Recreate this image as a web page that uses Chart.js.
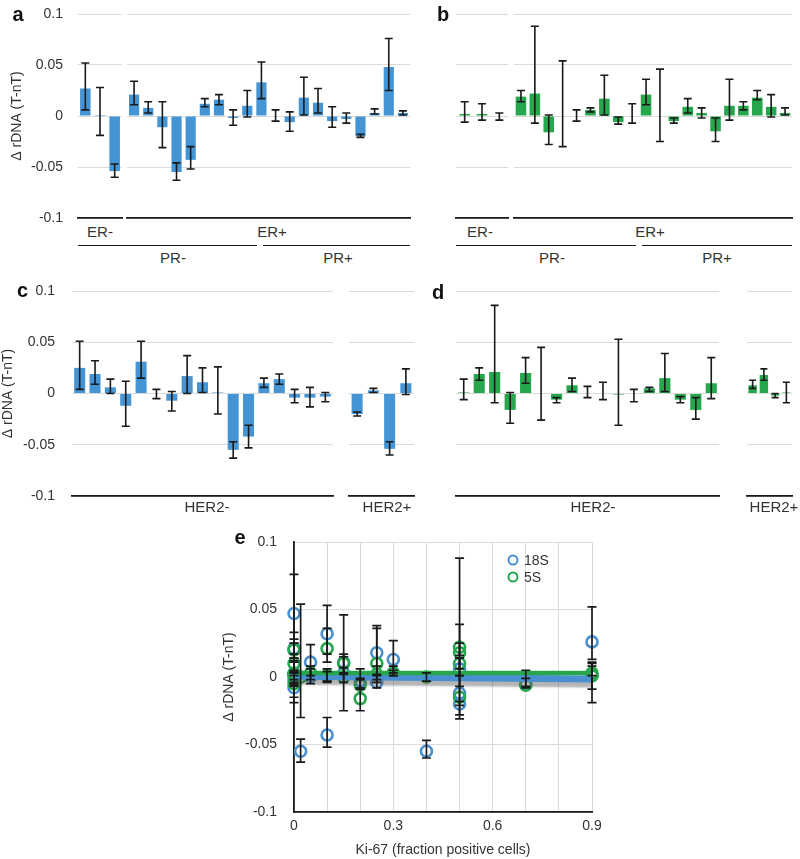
<!DOCTYPE html>
<html><head><meta charset="utf-8">
<script src="https://cdn.jsdelivr.net/npm/chart.js@4.4.1/dist/chart.umd.min.js"></script>
<style>
html,body{margin:0;padding:0;background:#fff;}
body{width:800px;height:859px;position:relative;overflow:hidden;font-family:"Liberation Sans",Arial,sans-serif;color:#333;}
canvas{position:absolute;}
.lbl{position:absolute;font-size:15px;line-height:15px;transform:translate(-50%,-50%);white-space:nowrap;color:#333;}
.letter{position:absolute;font-weight:bold;font-size:20px;line-height:20px;transform:translate(-50%,-50%);color:#111;}
.hline{position:absolute;height:0;border-top:1.8px solid #1a1a1a;}
.leg{position:absolute;font-size:14px;line-height:14px;color:#333;white-space:nowrap;}
.dot{position:absolute;width:7px;height:7px;border-radius:50%;border-width:2.5px;border-style:solid;transform:translate(-50%,-50%);}
</style></head><body>
<script>
// ---------- shared axis ----------
const yTickVals = [-0.1, -0.05, 0, 0.05, 0.1];
const yTickLabels = ['-0.1', '-0.05', '0', '0.05', '0.1'];
const yTitle = 'Δ rDNA (T-nT)';

// ---------- panel a : 18S, grouped by ER ----------
const aErNegVal = [0.027, 0.001, -0.054];
const aErNegLo  = [0.006, -0.019, -0.060];
const aErNegHi  = [0.052, 0.028, -0.047];
const aErPosVal = [0.021, 0.008, -0.011, -0.055, -0.043, 0.012, 0.016, -0.002, 0.010, 0.033, 0.000, -0.006, 0.018, 0.013, -0.005, -0.003, -0.020, 0.003, 0.048, 0.003];
const aErPosLo  = [0.011, 0.003, -0.031, -0.063, -0.052, 0.009, 0.011, -0.009, -0.001, 0.017, -0.005, -0.015, 0.001, 0.003, -0.011, -0.007, -0.021, 0.002, 0.025, 0.001];
const aErPosHi  = [0.034, 0.014, 0.014, -0.046, -0.030, 0.017, 0.021, 0.006, 0.025, 0.053, 0.006, 0.004, 0.038, 0.027, 0.009, 0.003, -0.018, 0.007, 0.076, 0.005];

// ---------- panel b : 5S, grouped by ER ----------
const bErNegVal = [0.002, 0.002, 0.000];
const bErNegLo  = [-0.006, -0.004, -0.004];
const bErNegHi  = [0.014, 0.012, 0.003];
const bErPosVal = [0.019, 0.022, -0.016, 0.000, 0.000, 0.006, 0.017, -0.006, 0.000, 0.021, 0.000, -0.005, 0.009, 0.003, -0.015, 0.010, 0.010, 0.018, 0.009, 0.003];
const bErPosLo  = [0.014, -0.007, -0.028, -0.030, -0.005, 0.004, 0.001, -0.008, -0.007, 0.011, -0.025, -0.007, 0.003, -0.002, -0.025, -0.004, 0.006, 0.016, -0.001, 0.001];
const bErPosHi  = [0.025, 0.088, 0.001, 0.054, 0.006, 0.008, 0.040, -0.001, 0.012, 0.036, 0.046, -0.002, 0.017, 0.008, -0.002, 0.036, 0.014, 0.025, 0.021, 0.008];

// ---------- panel c : 18S, grouped by HER2 ----------
const cHerNegVal = [0.025, 0.019, 0.006, -0.012, 0.031, 0.000, -0.007, 0.017, 0.011, 0.001, -0.055, -0.042, 0.010, 0.014, -0.004, -0.004, -0.003];
const cHerNegLo  = [0.004, 0.009, 0.000, -0.032, 0.015, -0.005, -0.017, 0.000, 0.001, -0.020, -0.063, -0.053, 0.006, 0.009, -0.009, -0.013, -0.008];
const cHerNegHi  = [0.051, 0.032, 0.014, 0.012, 0.051, 0.004, 0.002, 0.037, 0.025, 0.026, -0.047, -0.031, 0.015, 0.019, 0.004, 0.006, 0.001];
const cHerPosVal = [-0.020, 0.003, -0.054, 0.010];
const cHerPosLo  = [-0.022, 0.001, -0.060, -0.001];
const cHerPosHi  = [-0.018, 0.005, -0.047, 0.024];

// ---------- panel d : 5S, grouped by HER2 ----------
const dHerNegVal = [0.001, 0.019, 0.021, -0.016, 0.020, 0.000, -0.006, 0.008, 0.000, 0.000, -0.001, 0.000, 0.005, 0.015, -0.006, -0.016, 0.010];
const dHerNegLo  = [-0.006, 0.013, -0.009, -0.029, 0.010, -0.026, -0.009, 0.002, -0.004, -0.006, -0.031, -0.008, 0.002, 0.002, -0.009, -0.025, -0.005];
const dHerNegHi  = [0.014, 0.025, 0.086, 0.001, 0.035, 0.045, -0.004, 0.015, 0.007, 0.011, 0.053, 0.004, 0.006, 0.039, -0.003, -0.004, 0.035];
const dHerPosVal = [0.008, 0.018, -0.002, 0.001];
const dHerPosLo  = [0.005, 0.013, -0.004, -0.009];
const dHerPosHi  = [0.013, 0.024, 0.000, 0.011];

// ---------- panel e : vs Ki-67 ----------
const eKi67_18S = [0, 0, 0, 0, 0, 0, 0.02, 0.05, 0.05, 0.10, 0.10, 0.10, 0.15, 0.15, 0.20, 0.25, 0.25, 0.30, 0.30, 0.40, 0.50, 0.50, 0.50, 0.70, 0.90, 0.90];
const e18SVal   = [0.047, 0.021, -0.008, 0.003, -0.002, 0.001, -0.055, 0.011, 0.000, 0.032, -0.043, 0.001, 0.011, 0.003, -0.003, 0.018, -0.004, 0.013, 0.003, -0.055, -0.012, -0.020, 0.006, -0.005, 0.026, 0.001];
const e18SLo    = [0.025, 0.011, -0.015, 0.001, -0.005, -0.019, -0.063, 0.001, -0.005, 0.017, -0.052, -0.003, 0.003, 0.002, -0.009, 0.001, -0.008, 0.003, 0.001, -0.060, -0.031, -0.021, 0.001, -0.007, 0.013, -0.019];
const e18SHi    = [0.076, 0.033, 0.004, 0.005, 0.003, 0.028, -0.046, 0.024, 0.006, 0.053, -0.030, 0.004, 0.017, 0.007, 0.006, 0.038, 0.002, 0.027, 0.005, -0.047, 0.014, -0.018, 0.039, 0.005, 0.052, 0.010];
const eKi67_5S  = [0, 0, 0, 0, 0, 0.02, 0.05, 0.10, 0.10, 0.15, 0.15, 0.20, 0.20, 0.25, 0.25, 0.30, 0.40, 0.50, 0.50, 0.50, 0.50, 0.70, 0.90, 0.90];
const e5SVal    = [0.020, 0.010, 0.002, -0.005, 0.002, 0.000, 0.003, 0.021, 0.001, 0.010, 0.000, -0.006, -0.016, 0.010, 0.002, 0.003, 0.000, 0.022, 0.018, 0.010, -0.015, -0.006, 0.003, 0.001];
const e5SLo     = [0.014, 0.003, -0.006, -0.007, -0.004, -0.030, -0.002, 0.011, -0.004, -0.004, -0.025, -0.008, -0.025, -0.004, -0.002, 0.001, -0.003, -0.007, 0.016, 0.006, -0.028, -0.008, 0.001, -0.009];
const e5SHi     = [0.025, 0.017, 0.014, -0.002, 0.012, 0.054, 0.008, 0.036, 0.006, 0.015, 0.046, -0.001, -0.002, 0.036, 0.008, 0.008, 0.003, 0.088, 0.025, 0.014, 0.001, -0.001, 0.008, 0.011];
const eTrendX   = [0, 0.9];
const eTrend18S = [0.0005, -0.0015];
const eTrend5S  = [0.003, 0.003];
const eXTickVals   = [0, 0.3, 0.6, 0.9];
const eXTickLabels = ['0', '0.3', '0.6', '0.9'];

// ---------- styling ----------
const BLUE = '#4595d5';
const GREEN = '#26a64d';
const GRID = '#dadada';
const INK = '#1a1a1a';
Chart.defaults.font.family = '"Liberation Sans", Arial, sans-serif';
Chart.defaults.color = '#333';

const errorBars = {
  id: 'errorBars',
  afterDatasetsDraw(chart, args, opts) {
    const ctx = chart.ctx, ys = chart.scales.y;
    chart.data.datasets.forEach((ds, di) => {
      if (!ds.errLo) return;
      const meta = chart.getDatasetMeta(di);
      const c = opts.cap || 4;
      ctx.save();
      ctx.strokeStyle = INK;
      ctx.lineWidth = opts.width || 1.6;
      meta.data.forEach((el, i) => {
        const x = el.x;
        const yl = ys.getPixelForValue(ds.errLo[i]);
        const yh = ys.getPixelForValue(ds.errHi[i]);
        ctx.beginPath();
        ctx.moveTo(x, yl); ctx.lineTo(x, yh);
        ctx.moveTo(x - c, yl); ctx.lineTo(x + c, yl);
        ctx.moveTo(x - c, yh); ctx.lineTo(x + c, yh);
        ctx.stroke();
      });
      ctx.restore();
    });
  }
};

const shadowPlugin = {
  id: 'shadowPlugin',
  beforeDatasetDraw(chart, args) {
    if (chart.data.datasets[args.index].shadow) {
      const ctx = chart.ctx;
      ctx.save();
      ctx.shadowColor = 'rgba(90,90,90,0.45)';
      ctx.shadowBlur = 2;
      ctx.shadowOffsetY = 5;
    }
  },
  afterDatasetDraw(chart, args) {
    if (chart.data.datasets[args.index].shadow) chart.ctx.restore();
  }
};

function addCanvas(x, y, w, h) {
  const c = document.createElement('canvas');
  c.width = w; c.height = h;
  c.style.left = x + 'px'; c.style.top = y + 'px';
  c.style.width = w + 'px'; c.style.height = h + 'px';
  document.body.appendChild(c);
  return c;
}

function barPanel(cfg) {
  const { box, area, vals, lo, hi, color } = cfg;
  const cv = addCanvas(box.x, box.y, box.w, box.h);
  const yW = area.l - box.x;
  const xH = box.y + box.h - area.b;
  return new Chart(cv, {
    type: 'bar',
    data: {
      labels: vals.map((_, i) => String(i + 1)),
      datasets: [{ data: vals, errLo: lo, errHi: hi, backgroundColor: color, borderWidth: 0,
                   barPercentage: 1, categoryPercentage: cfg.catPct || 0.72 }]
    },
    options: {
      responsive: false, animation: false, events: [],
      layout: { padding: { top: area.t - box.y, right: box.x + box.w - area.r, left: 0, bottom: 0 } },
      plugins: { legend: { display: false }, tooltip: { enabled: false }, errorBars: { cap: cfg.cap || 4, width: 1.6 } },
      scales: {
        x: {
          type: 'category', offset: true,
          grid: { display: false }, ticks: { display: false },
          border: { display: true, color: INK, width: 1.8 },
          afterFit: s => { s.height = xH; s.paddingLeft = 0; s.paddingRight = 0; }
        },
        y: {
          type: 'linear', min: -0.1, max: 0.1,
          afterBuildTicks: s => { s.ticks = yTickVals.map(v => ({ value: v })); },
          grid: { color: GRID, lineWidth: 1, drawTicks: false },
          border: { display: false },
          ticks: { display: !!cfg.showY, padding: cfg.tickPad || 15, color: '#333', font: { size: 14 },
                   callback: (v, i) => yTickLabels[i] },
          title: { display: !!cfg.showY, text: yTitle, color: '#333', font: { size: 14 },
                   padding: { top: cfg.titlePad || 0, bottom: 0 } },
          afterFit: s => { s.width = yW; s.paddingTop = 0; s.paddingBottom = 0; }
        }
      }
    },
    plugins: [errorBars]
  });
}

// panel a
barPanel({ box: { x: 0, y: 0, w: 123, h: 222 }, area: { l: 78, t: 14, r: 122, b: 218 },
  vals: aErNegVal, lo: aErNegLo, hi: aErNegHi, color: BLUE, showY: true, tickPad: 15, titlePad: 8.6 });
barPanel({ box: { x: 123, y: 0, w: 290, h: 222 }, area: { l: 127, t: 14, r: 410, b: 218 },
  vals: aErPosVal, lo: aErPosLo, hi: aErPosHi, color: BLUE });
// panel b
barPanel({ box: { x: 452, y: 0, w: 58, h: 222 }, area: { l: 456, t: 14, r: 508, b: 218 },
  vals: bErNegVal, lo: bErNegLo, hi: bErNegHi, color: GREEN, catPct: 0.62 });
barPanel({ box: { x: 510, y: 0, w: 288, h: 222 }, area: { l: 514, t: 14, r: 792, b: 218 },
  vals: bErPosVal, lo: bErPosLo, hi: bErPosHi, color: GREEN, catPct: 0.76 });
// panel c
barPanel({ box: { x: 0, y: 270, w: 336, h: 230 }, area: { l: 72, t: 291, r: 333, b: 496 },
  vals: cHerNegVal, lo: cHerNegLo, hi: cHerNegHi, color: BLUE, showY: true, tickPad: 17, titlePad: 0 });
barPanel({ box: { x: 340, y: 270, w: 80, h: 230 }, area: { l: 349, t: 291, r: 414, b: 496 },
  vals: cHerPosVal, lo: cHerPosLo, hi: cHerPosHi, color: BLUE, catPct: 0.68 });
// panel d
barPanel({ box: { x: 450, y: 270, w: 272, h: 230 }, area: { l: 456, t: 291, r: 719, b: 496 },
  vals: dHerNegVal, lo: dHerNegLo, hi: dHerNegHi, color: GREEN });
barPanel({ box: { x: 740, y: 270, w: 58, h: 230 }, area: { l: 747, t: 291, r: 792, b: 496 },
  vals: dHerPosVal, lo: dHerPosLo, hi: dHerPosHi, color: GREEN, catPct: 0.75, cap: 3.5 });

// panel e
(function () {
  const box = { x: 200, y: 530, w: 430, h: 329 };
  const area = { l: 294, t: 542, r: 592, b: 812 };
  const cv = addCanvas(box.x, box.y, box.w, box.h);
  const pts = (xs, ys) => xs.map((x, i) => ({ x: x, y: ys[i] }));
  new Chart(cv, {
    type: 'scatter',
    data: {
      datasets: [
        { type: 'line', label: '5S fit', data: pts(eTrendX, eTrend5S), borderColor: GREEN, borderWidth: 4.5,
          pointRadius: 0, fill: false, order: 0 },
        { type: 'line', label: '18S fit', data: pts(eTrendX, eTrend18S), borderColor: '#4a8fd0', borderWidth: 7,
          pointRadius: 0, fill: false, order: 1, shadow: true },
        { label: '5S', data: pts(eKi67_5S, e5SVal), errLo: e5SLo, errHi: e5SHi, pointRadius: 5.5, borderWidth: 2.6,
          borderColor: GREEN, backgroundColor: 'rgba(0,0,0,0)', order: 2, clip: false },
        { label: '18S', data: pts(eKi67_18S, e18SVal), errLo: e18SLo, errHi: e18SHi, pointRadius: 5.5, borderWidth: 2.6,
          borderColor: '#4a90cc', backgroundColor: 'rgba(0,0,0,0)', order: 3, clip: false }
      ]
    },
    options: {
      responsive: false, animation: false, events: [],
      layout: { padding: { top: area.t - box.y, right: box.x + box.w - area.r, left: 0, bottom: 0 } },
      plugins: { legend: { display: false }, tooltip: { enabled: false }, errorBars: { cap: 4.5, width: 1.7 } },
      scales: {
        x: {
          type: 'linear', min: 0, max: 0.9,
          ticks: { stepSize: 0.1, autoSkip: false, maxRotation: 0, padding: 6, color: '#333', font: { size: 14 },
                   callback: v => { const k = eXTickVals.findIndex(t => Math.abs(t - v) < 1e-6); return k >= 0 ? eXTickLabels[k] : ''; } },
          grid: { color: GRID, lineWidth: 1, drawTicks: false },
          border: { display: true, color: INK, width: 1.8 },
          title: { display: true, text: 'Ki-67 (fraction positive cells)', color: '#333', font: { size: 14 }, padding: { top: 0, bottom: 0 } },
          afterFit: s => { s.height = box.y + box.h - area.b; s.paddingLeft = 0; s.paddingRight = 0; }
        },
        y: {
          type: 'linear', min: -0.1, max: 0.1,
          afterBuildTicks: s => { s.ticks = yTickVals.map(v => ({ value: v })); },
          grid: { color: GRID, lineWidth: 1, drawTicks: false },
          border: { display: true, color: INK, width: 1.8 },
          ticks: { padding: 17, color: '#333', font: { size: 14 }, callback: (v, i) => yTickLabels[i] },
          title: { display: true, text: yTitle, color: '#333', font: { size: 14 }, padding: { top: 20.6, bottom: 0 } },
          afterFit: s => { s.width = area.l - box.x; s.paddingTop = 0; s.paddingBottom = 0; }
        }
      }
    },
    plugins: [shadowPlugin, errorBars]
  });
})();

// ---------- HTML annotations (group lines, labels, letters, legend) ----------
function add(cls, x, y, text, extra) {
  const d = document.createElement('div');
  d.className = cls;
  d.style.left = x + 'px'; d.style.top = y + 'px';
  if (text !== undefined) d.textContent = text;
  if (extra) Object.assign(d.style, extra);
  document.body.appendChild(d);
  return d;
}
function hline(x1, x2, y) { add('hline', x1, y - 0.9, undefined, { width: (x2 - x1) + 'px' }); }

// PR lines
hline(78, 257, 246); hline(263, 410, 246);
hline(456, 636, 246); hline(642, 792, 246);

// group labels
add('lbl', 100, 231, 'ER-'); add('lbl', 272, 231, 'ER+');
add('lbl', 173, 257, 'PR-'); add('lbl', 338, 257, 'PR+');
add('lbl', 480, 231, 'ER-'); add('lbl', 650, 231, 'ER+');
add('lbl', 552, 257, 'PR-'); add('lbl', 717, 257, 'PR+');
add('lbl', 207, 506, 'HER2-'); add('lbl', 387, 506, 'HER2+');
add('lbl', 593, 506, 'HER2-'); add('lbl', 774, 506, 'HER2+');

// panel letters
add('letter', 18, 13.5, 'a'); add('letter', 443, 14, 'b');
add('letter', 22.5, 290, 'c'); add('letter', 438, 292, 'd');
add('letter', 240, 537, 'e');

// legend of panel e
add('dot', 513, 560, undefined, { borderColor: '#4a90cc' });
add('dot', 513, 577, undefined, { borderColor: GREEN });
add('leg', 524, 553, '18S');
add('leg', 524, 570, '5S');
</script>
</body></html>
